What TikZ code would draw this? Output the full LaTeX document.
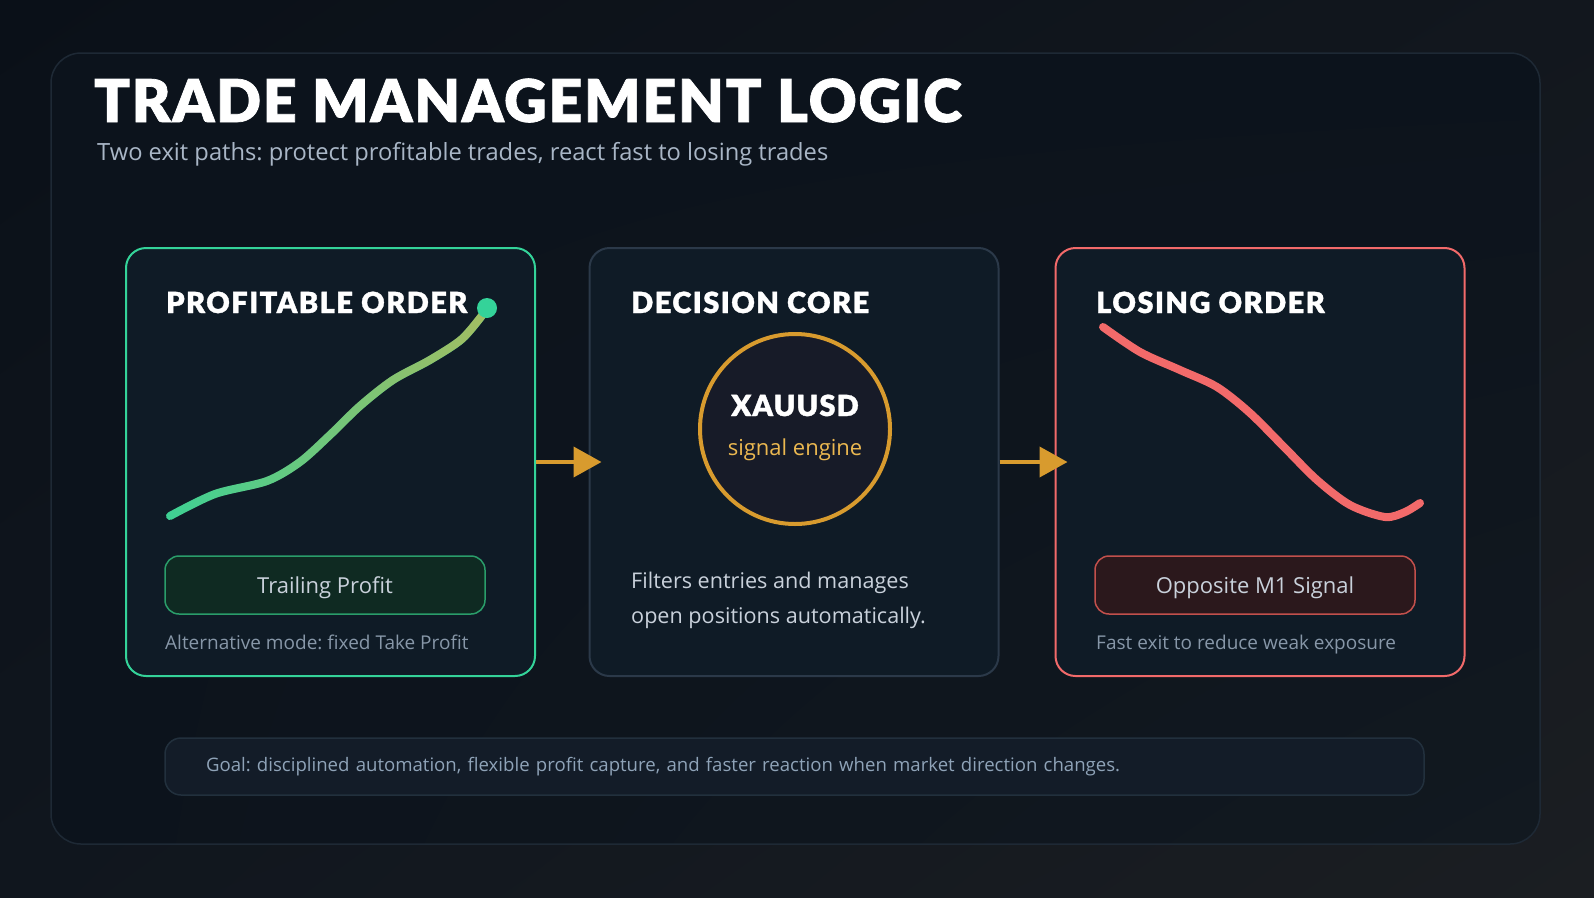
\documentclass[tikz,border=0pt]{standalone}
\usepackage{fontspec}
\setmainfont{Open Sans}
\newfontfamily\heavyfont{Lato Black}[FakeBold=1.2]
\usetikzlibrary{arrows.meta,positioning,fadings,shadings}
\frenchspacing

\definecolor{bgtl}{HTML}{0A1018}
\definecolor{bgtr}{HTML}{12171E}
\definecolor{bgbl}{HTML}{10161E}
\definecolor{bgbr}{HTML}{1B1E22}
\definecolor{paneltl}{HTML}{0C131C}
\definecolor{panelbr}{HTML}{121920}
\definecolor{panelline}{HTML}{1E2935}
\definecolor{cardfill}{HTML}{0F1B26}
\definecolor{coreline}{HTML}{2B3949}
\definecolor{profitgreen}{HTML}{34D399}
\definecolor{lossred}{HTML}{F26A6A}
\definecolor{gold}{HTML}{D89B2E}
\definecolor{softgold}{HTML}{EBB850}
\definecolor{curvegold}{HTML}{D6B44A}
\definecolor{subgrey}{HTML}{A9B6C6}
\definecolor{notegrey}{HTML}{8797A8}
\definecolor{bodygrey}{HTML}{C9D1DB}
\definecolor{btngreen}{HTML}{0F2A22}
\definecolor{btngreenline}{HTML}{2A9D6A}
\definecolor{btnred}{HTML}{2B181C}
\definecolor{btnredline}{HTML}{C2504C}
\definecolor{corefill}{HTML}{171B28}
\definecolor{goalfill}{HTML}{131C28}
\definecolor{goalline}{HTML}{22303D}
\definecolor{goaltext}{HTML}{8FA3B8}

% ramp used to blend the profit curve into gold
\pgfdeclarehorizontalshading{goldramp}{100bp}{color(0bp)=(black); color(20bp)=(black); color(100bp)=(white)}
\pgfdeclarefading{fadeingold}{\pgfuseshading{goldramp}}

\tikzset{
  card/.style={draw, line width=2pt, fill=cardfill, rounded corners=20pt,
    minimum width=409pt, minimum height=428pt, inner sep=0pt},
  cardtitle/.style={anchor=base west, inner sep=0pt, text=white,
    font=\heavyfont\addfontfeatures{LetterSpace=5}\fontsize{29}{34}\selectfont},
  pill/.style={draw, line width=1.5pt, rounded corners=14pt, minimum width=320pt,
    minimum height=58pt, text height=16pt, text depth=0pt, text=bodygrey,
    font=\fontsize{22}{26}\selectfont},
  note/.style={anchor=base west, inner sep=0pt, text=notegrey, font=\fontsize{19}{23}\selectfont},
  body/.style={anchor=base west, inner sep=0pt, text=bodygrey, font=\fontsize{21.6}{26}\selectfont},
  trend/.style={line width=8pt, line cap=round},
  flow/.style={gold, line width=4pt, -{Triangle[length=28pt,width=30pt]}, shorten >=-13pt},
}

\begin{document}
\begin{tikzpicture}[x=1pt,y=-1pt]
  \useasboundingbox (0,0) rectangle (1594,897);
  % backdrop
  \shade[upper left=bgtl, upper right=bgtr, lower left=bgbl, lower right=bgbr] (0,0) rectangle (1594,897);
  \shade[upper left=paneltl, upper right=paneltl, lower left=paneltl, lower right=panelbr, rounded corners=30pt]
    (51,53) rectangle (1540,844);
  \draw[panelline, line width=1.5pt, rounded corners=30pt] (51,53) rectangle (1540,844);

  \node[anchor=base west, inner sep=0pt, text=white,
    font=\heavyfont\addfontfeatures{LetterSpace=3}\fontsize{59}{64}\selectfont]
    (title) at (94,122) {TRADE MANAGEMENT LOGIC};
  \node[anchor=base west, inner sep=0pt, text=subgrey, font=\fontsize{23.7}{28}\selectfont]
    (subtitle) at (97,160) {Two exit paths: protect profitable trades, react fast to losing trades};

  % three cards
  \node[card, draw=profitgreen] (profit) at (330.5,462) {};
  \node[card, draw=coreline] (core) at (794,462) {};
  \node[card, draw=lossred] (loss) at (1260,462) {};

  \node[cardtitle] (profittitle) at (166,313) {PROFITABLE ORDER};
  \node[cardtitle] (coretitle) at (631,313) {DECISION CORE};
  \node[cardtitle] (losstitle) at (1096,313) {LOSING ORDER};

  % profit curve
  \draw[trend, profitgreen] plot[smooth] coordinates {(170,516) (215,494) (267,481) (300,462)
    (330,435) (360,406) (393,380) (430,360) (462,339) (484,313)};
  \draw[trend, curvegold, path fading=fadeingold] plot[smooth] coordinates {(170,516) (215,494)
    (267,481) (300,462) (330,435) (360,406) (393,380) (430,360) (462,339) (484,313)};
  \fill[profitgreen] (487,308) circle (10);

  % losing curve
  \draw[trend, lossred] plot[smooth] coordinates {(1103,327) (1140,352) (1180,370) (1217,387)
    (1250,413) (1285,448) (1317,480) (1350,505) (1385,517) (1405,512) (1420,503)};

  % decision core
  \node[circle, draw=gold, line width=4pt, fill=corefill, minimum size=190pt, inner sep=0pt]
    (engine) at (795,429) {};
  \node[anchor=base, inner sep=0pt, text=white,
    font=\heavyfont\addfontfeatures{LetterSpace=4}\fontsize{29}{34}\selectfont]
    (pair) at (795,416) {XAUUSD};
  \node[anchor=base, inner sep=0pt, text=softgold, font=\fontsize{22}{26}\selectfont]
    (enginelabel) at (795,455) {signal engine};
  \node[body] (coreline1) at (631,588) {Filters entries and manages};
  \node[body] (coreline2) at (631,623) {open positions automatically.};

  % exit rules
  \node[pill, fill=btngreen, draw=btngreenline] (trail) at (325,585) {Trailing Profit};
  \node[pill, fill=btnred, draw=btnredline] (opposite) at (1255,585) {Opposite M1 Signal};
  \node[note] (altmode) at (165,649) {Alternative mode: fixed Take Profit};
  \node[note] (fastexit) at (1096,649) {Fast exit to reduce weak exposure};

  \draw[flow] (profit.east) -- (core.west);
  \draw[flow] (core.east) -- (loss.west);

  % goal strip
  \node[draw=goalline, fill=goalfill, line width=1.5pt, rounded corners=16pt, text width=1177pt,
    inner xsep=41pt, minimum height=57pt, align=left, text=goaltext, font=\fontsize{18.6}{22}\selectfont]
    (goal) at (794.5,766.5) {Goal: disciplined automation, flexible profit capture, and faster reaction when market direction changes.};
\end{tikzpicture}
\end{document}
